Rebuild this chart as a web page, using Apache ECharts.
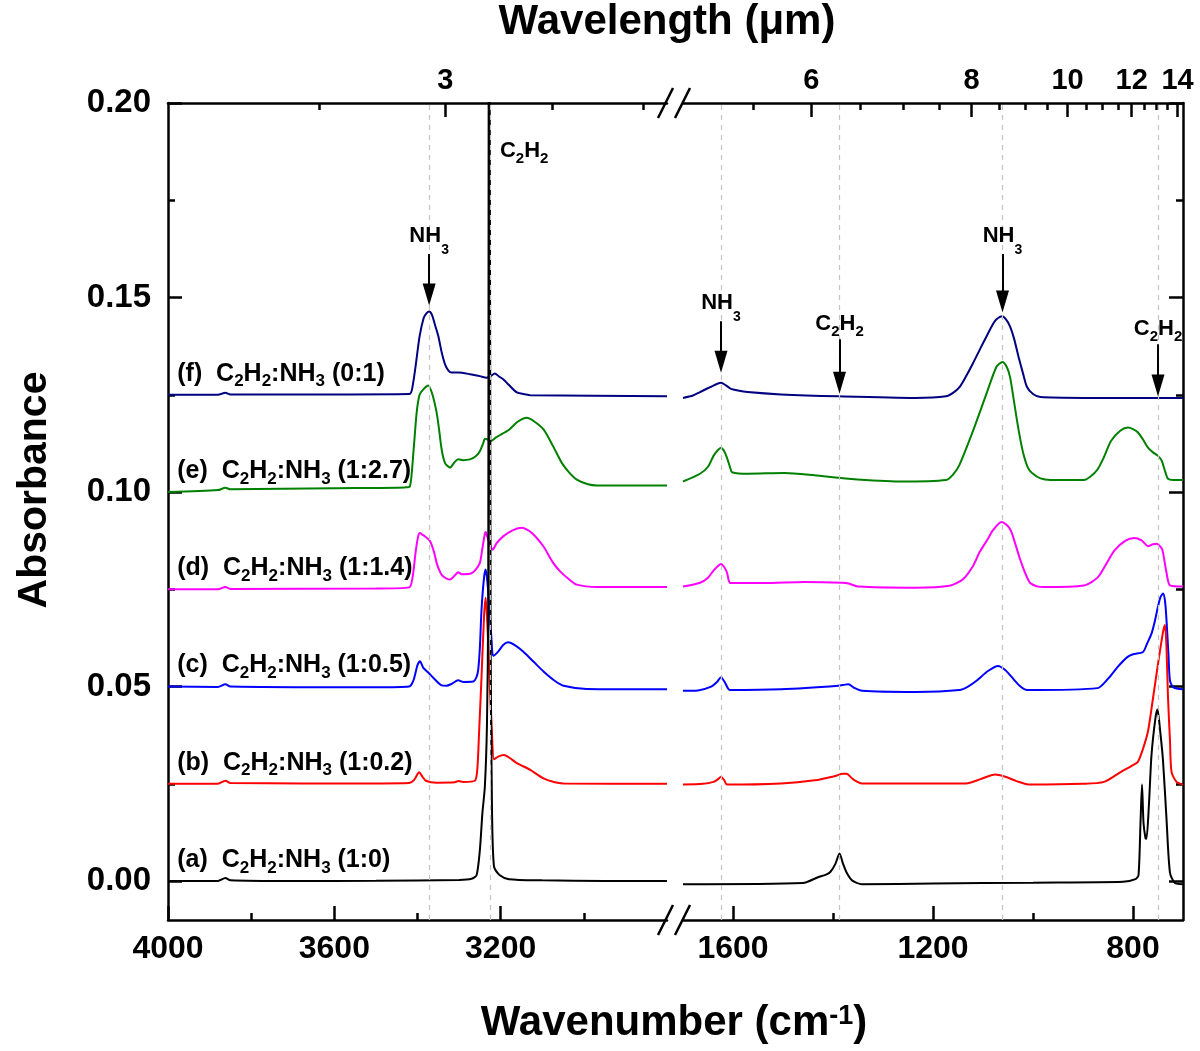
<!DOCTYPE html>
<html>
<head>
<meta charset="utf-8">
<script src="https://cdn.jsdelivr.net/npm/echarts@6/dist/echarts.min.js"></script>
<style>
  html, body { margin: 0; padding: 0; background: #fff; }
  #chart { width: 1200px; height: 1051px; }
</style>
</head>
<body>
<div id="chart"></div>
<script>
var FONT = '"Liberation Sans", Arial, sans-serif';

// tick values
var wnLeftMajor = [4000, 3600, 3200];
var wnLeftMinor = [3800, 3400, 3000];
var wnRightMajor = [1600, 1200, 800];
var wnRightMinor = [1400, 1000];
var umLeftMajor = [3];
var umLeftMinor = [2.75, 3.25, 3.5];
var umRightMajor = [6, 8, 10, 12, 14];
var umRightMinor = [5.5, 6.5, 7, 7.5, 8.5, 9, 9.5, 10.5, 11, 11.5, 12.5, 13, 13.5];
var absMajor = [0, 0.05, 0.10, 0.15, 0.20];
var absMinor = [0.025, 0.075, 0.125, 0.175];

// spectra [wavenumber, absorbance], 4000-2800 and 1700-700 cm-1
var aLeft = [[4000,0.0000],[3880,0.0000],[3862,0.0008],[3850,0.0002],[3700,0.0000],[3500,0.0001],[3300,0.0003],[3270,0.0006],[3258,0.0015],[3250,0.0080],[3244,0.0174],[3238,0.0243],[3233,0.0400],[3230,0.0700],[3228,0.3000],[3224,0.0600],[3221,0.0200],[3216,0.0037],[3202,0.0015],[3180,0.0005],[3100,0.0002],[2950,0.0000],[2800,0.0000]];
var aRight = [[1700,-0.0008],[1460,-0.0005],[1430,0.0010],[1415,0.0016],[1405,0.0024],[1395,0.0045],[1387,0.0071],[1380,0.0045],[1372,0.0020],[1362,0.0002],[1342,-0.0008],[1200,-0.0006],[1000,-0.0004],[820,-0.0002],[795,0.0005],[789,0.0015],[785,0.0150],[782,0.0248],[779,0.0150],[775,0.0110],[773,0.0109],[768,0.0200],[763,0.0324],[755,0.0420],[751,0.0441],[746,0.0390],[740,0.0310],[733,0.0160],[726,0.0021],[716,-0.0005],[700,-0.0008]];

var bLeft = [[4000,0.0250],[3880,0.0250],[3862,0.0258],[3850,0.0252],[3500,0.0251],[3420,0.0252],[3408,0.0260],[3396,0.0280],[3388,0.0268],[3380,0.0258],[3354,0.0253],[3310,0.0254],[3302,0.0257],[3290,0.0255],[3262,0.0258],[3256,0.0290],[3252,0.0380],[3246,0.0526],[3240,0.0680],[3236,0.0728],[3232,0.0660],[3227,0.0526],[3221,0.0380],[3216,0.0313],[3206,0.0320],[3192,0.0324],[3175,0.0314],[3161,0.0303],[3129,0.0286],[3097,0.0264],[3070,0.0254],[3049,0.0251],[2800,0.0250]];
var bRight = [[1700,0.0248],[1660,0.0250],[1639,0.0255],[1630,0.0262],[1624,0.0268],[1618,0.0260],[1612,0.0248],[1504,0.0251],[1437,0.0259],[1396,0.0270],[1380,0.0276],[1373,0.0276],[1360,0.0262],[1342,0.0251],[1134,0.0251],[1105,0.0262],[1076,0.0274],[1055,0.0268],[1033,0.0257],[1006,0.0248],[900,0.0250],[858,0.0255],[824,0.0281],[800,0.0298],[790,0.0307],[780,0.0340],[770,0.0385],[760,0.0470],[750,0.0558],[740,0.0640],[736,0.0658],[733,0.0600],[730,0.0472],[726,0.0360],[723,0.0281],[713,0.0255],[700,0.0248]];

var cLeft = [[4000,0.0500],[3880,0.0499],[3862,0.0506],[3850,0.0500],[3500,0.0498],[3420,0.0500],[3410,0.0515],[3400,0.0555],[3394,0.0565],[3386,0.0548],[3374,0.0536],[3358,0.0518],[3342,0.0503],[3330,0.0502],[3318,0.0507],[3302,0.0516],[3290,0.0512],[3266,0.0513],[3258,0.0525],[3254,0.0543],[3250,0.0600],[3246,0.0698],[3240,0.0780],[3236,0.0801],[3232,0.0770],[3227,0.0698],[3222,0.0620],[3218,0.0579],[3206,0.0590],[3194,0.0607],[3182,0.0614],[3165,0.0606],[3146,0.0590],[3120,0.0563],[3097,0.0539],[3070,0.0515],[3049,0.0502],[2993,0.0494],[2800,0.0493]];
var cRight = [[1700,0.0489],[1670,0.0490],[1645,0.0499],[1632,0.0512],[1624,0.0524],[1616,0.0510],[1606,0.0491],[1504,0.0493],[1389,0.0502],[1376,0.0505],[1369,0.0506],[1358,0.0497],[1342,0.0489],[1235,0.0486],[1147,0.0491],[1130,0.0500],[1113,0.0515],[1090,0.0540],[1070,0.0553],[1055,0.0542],[1039,0.0519],[1025,0.0500],[1012,0.0491],[871,0.0496],[850,0.0520],[831,0.0550],[812,0.0575],[800,0.0583],[780,0.0589],[772,0.0610],[763,0.0636],[756,0.0670],[750,0.0706],[745,0.0730],[740,0.0739],[736,0.0720],[733,0.0671],[729,0.0580],[726,0.0515],[719,0.0498],[700,0.0493]];

var dLeft = [[4000,0.0750],[3880,0.0750],[3862,0.0756],[3850,0.0751],[3500,0.0752],[3420,0.0755],[3412,0.0780],[3404,0.0850],[3398,0.0888],[3394,0.0895],[3388,0.0890],[3382,0.0886],[3370,0.0874],[3360,0.0845],[3354,0.0818],[3345,0.0793],[3338,0.0783],[3322,0.0775],[3310,0.0786],[3302,0.0794],[3294,0.0789],[3274,0.0790],[3262,0.0798],[3250,0.0818],[3244,0.0855],[3238,0.0893],[3236,0.0897],[3232,0.0885],[3227,0.0869],[3219,0.0852],[3210,0.0868],[3194,0.0886],[3170,0.0902],[3149,0.0908],[3125,0.0895],[3097,0.0860],[3075,0.0820],[3057,0.0796],[3035,0.0775],[3017,0.0762],[2969,0.0756],[2800,0.0756]];
var dRight = [[1700,0.0757],[1666,0.0767],[1650,0.0780],[1639,0.0798],[1630,0.0810],[1624,0.0815],[1618,0.0808],[1612,0.0793],[1605,0.0766],[1538,0.0766],[1457,0.0769],[1380,0.0767],[1369,0.0765],[1349,0.0757],[1235,0.0754],[1167,0.0759],[1140,0.0776],[1120,0.0810],[1107,0.0845],[1090,0.0880],[1080,0.0902],[1063,0.0923],[1050,0.0912],[1043,0.0897],[1035,0.0865],[1026,0.0828],[1015,0.0790],[1006,0.0767],[990,0.0757],[979,0.0756],[898,0.0760],[871,0.0780],[855,0.0812],[837,0.0850],[815,0.0875],[798,0.0882],[783,0.0876],[770,0.0861],[760,0.0866],[753,0.0867],[742,0.0854],[738,0.0830],[733,0.0793],[726,0.0760],[700,0.0757]];

var eLeft = [[4000,0.1000],[3880,0.1005],[3862,0.1011],[3850,0.1007],[3600,0.1010],[3430,0.1012],[3418,0.1015],[3410,0.1100],[3402,0.1204],[3395,0.1250],[3386,0.1264],[3374,0.1274],[3364,0.1250],[3354,0.1204],[3348,0.1160],[3342,0.1110],[3334,0.1075],[3322,0.1063],[3310,0.1078],[3302,0.1084],[3290,0.1082],[3274,0.1084],[3260,0.1092],[3250,0.1105],[3242,0.1125],[3238,0.1137],[3231,0.1135],[3224,0.1131],[3212,0.1140],[3202,0.1146],[3180,0.1160],[3160,0.1180],[3137,0.1191],[3120,0.1182],[3097,0.1161],[3075,0.1120],[3053,0.1075],[3035,0.1050],[3017,0.1032],[2990,0.1020],[2969,0.1017],[2800,0.1017]];
var eRight = [[1700,0.1027],[1666,0.1047],[1650,0.1065],[1639,0.1093],[1630,0.1108],[1624,0.1114],[1618,0.1106],[1612,0.1088],[1605,0.1060],[1602,0.1051],[1571,0.1047],[1497,0.1049],[1437,0.1043],[1369,0.1034],[1268,0.1027],[1174,0.1031],[1160,0.1045],[1147,0.1070],[1120,0.1157],[1093,0.1253],[1073,0.1322],[1061,0.1334],[1052,0.1320],[1046,0.1296],[1040,0.1250],[1033,0.1192],[1026,0.1140],[1019,0.1097],[1010,0.1062],[1002,0.1049],[985,0.1035],[965,0.1031],[898,0.1031],[885,0.1040],[871,0.1058],[858,0.1090],[844,0.1131],[825,0.1158],[810,0.1166],[800,0.1162],[790,0.1153],[780,0.1135],[770,0.1114],[760,0.1102],[750,0.1093],[743,0.1082],[740,0.1071],[735,0.1050],[730,0.1034],[720,0.1031],[700,0.1031]];

var fLeft = [[4000,0.1250],[3880,0.1250],[3862,0.1255],[3850,0.1251],[3600,0.1251],[3420,0.1252],[3414,0.1260],[3405,0.1320],[3395,0.1400],[3385,0.1448],[3378,0.1460],[3372,0.1464],[3365,0.1455],[3358,0.1430],[3350,0.1401],[3342,0.1360],[3334,0.1329],[3326,0.1313],[3318,0.1307],[3302,0.1307],[3274,0.1303],[3250,0.1298],[3234,0.1294],[3224,0.1298],[3214,0.1305],[3204,0.1297],[3194,0.1290],[3180,0.1275],[3161,0.1256],[3140,0.1251],[3129,0.1249],[2800,0.1246]];
var fRight = [[1700,0.1242],[1680,0.1248],[1666,0.1257],[1645,0.1270],[1624,0.1281],[1614,0.1274],[1605,0.1266],[1590,0.1261],[1571,0.1257],[1504,0.1251],[1389,0.1246],[1235,0.1242],[1174,0.1246],[1160,0.1255],[1147,0.1270],[1135,0.1295],[1120,0.1331],[1105,0.1370],[1093,0.1400],[1080,0.1432],[1073,0.1444],[1062,0.1452],[1054,0.1444],[1046,0.1426],[1038,0.1395],[1029,0.1348],[1020,0.1305],[1012,0.1270],[1000,0.1252],[985,0.1244],[898,0.1242],[700,0.1242]];

var curveTags = ['(a)', '(b)', '(c)', '(d)', '(e)', '(f)'];
var curveRatios = ['1:0', '1:0.2', '1:0.5', '1:1.4', '1:2.7', '0:1'];
var curveBase = [0, 0.025, 0.05, 0.075, 0.10, 0.125];
var curveColors = ['#000000', '#ff0000', '#0000ff', '#ff00ff', '#008000', '#000080'];
var leftSets = [aLeft, bLeft, cLeft, dLeft, eLeft, fLeft];
var rightSets = [aRight, bRight, cRight, dRight, eRight, fRight];

// reference lines and arrows (from = tail, to = arrow head centre)
var dashLeft = [3372, 3226];
var dashRight = [1624, 1387, 1061, 750];
var arrowsLeft = [{name: 'NH3', x: 3372, from: 0.1612, to: 0.1508}];
var arrowsRight = [
  {name: 'NH3', x: 1624, from: 0.1439, to: 0.1335},
  {name: 'C2H2', x: 1387, from: 0.1393, to: 0.1281},
  {name: 'NH3', x: 1061, from: 0.1612, to: 0.1490},
  {name: 'C2H2', x: 750, from: 0.1380, to: 0.1274}
];

// rich text for chemical formulas: main key / subscript key
function chem(s, mk, sk) {
  return '{' + mk + '|' + s.replace(/([A-Za-z])(\d+)/g, '$1}{' + sk + '|$2}{' + mk + '|') + '}';
}
function tok(size, pad) {
  return {fontFamily: FONT, fontWeight: 'bold', color: '#000', fontSize: size, lineHeight: size, padding: pad};
}
var curveRich = {n: tok(25, [0, 0, 8, 0]), s: tok(17, [8, 0, 0, 0])};
var annRich = {
  n: tok(22, [0, 0, 8, 0]), s: tok(15, [8, 0, 0, 0]),
  m: tok(22, [0, 0, 14, 0]), d: tok(14, [14, 0, 0, 0])
};

function wnAxis(gridIndex, position, min, max, values, major, fmt) {
  return {
    type: 'value', gridIndex: gridIndex, position: position, min: min, max: max, inverse: true,
    axisLine: {show: major, onZero: false, lineStyle: {color: '#000', width: 2.5}},
    axisTick: {show: true, inside: true, length: major ? 14 : 7, customValues: values,
      lineStyle: {color: '#000', width: 2.5}},
    axisLabel: {show: !!fmt, customValues: values, formatter: fmt, fontFamily: FONT, fontWeight: 'bold',
      fontSize: position === 'top' ? 29 : 32, color: '#000', margin: position === 'top' ? 8 : 13},
    splitLine: {show: false}
  };
}
function absAxis(gridIndex, position, values, major, withLabels) {
  return {
    type: 'value', gridIndex: gridIndex, position: position, min: -0.01, max: 0.20,
    axisLine: {show: major, onZero: false, lineStyle: {color: '#000', width: 2.5}},
    axisTick: {show: true, inside: true, length: major ? 14 : 7, customValues: values,
      lineStyle: {color: '#000', width: 2.5}},
    axisLabel: {show: withLabels, customValues: values, formatter: function (v) { return v.toFixed(2); },
      fontFamily: FONT, fontWeight: 'bold', fontSize: 33, color: '#000', margin: 17},
    splitLine: {show: false}
  };
}
var toUm = function (v) { return String(Math.round(1e4 / v)); };
var umToWn = function (u) { return 1e4 / u; };

var xAxes = [
  wnAxis(0, 'bottom', 2800, 4000, wnLeftMajor, true, function (v) { return String(v); }),
  wnAxis(0, 'bottom', 2800, 4000, wnLeftMinor, false),
  wnAxis(0, 'top', 2800, 4000, umLeftMajor.map(umToWn), true, toUm),
  wnAxis(0, 'top', 2800, 4000, umLeftMinor.map(umToWn), false),
  wnAxis(1, 'bottom', 700, 1700, wnRightMajor, true, function (v) { return String(v); }),
  wnAxis(1, 'bottom', 700, 1700, wnRightMinor, false),
  wnAxis(1, 'top', 700, 2000, umRightMajor.map(umToWn), true, toUm),
  wnAxis(1, 'top', 700, 2000, umRightMinor.map(umToWn), false)
];
var yAxes = [
  absAxis(0, 'left', absMajor, true, true),
  absAxis(0, 'left', absMinor, false, false),
  absAxis(1, 'right', absMajor, true, false),
  absAxis(1, 'right', absMinor, false, false)
];

var series = [];
// dashed guide lines
series.push({
  type: 'line', xAxisIndex: 0, yAxisIndex: 0, data: [], z: 1, silent: true,
  markLine: {silent: true, symbol: ['none', 'none'], label: {show: false},
    lineStyle: {type: [5, 5], color: '#c4c4c4', width: 1.2},
    data: dashLeft.map(function (v) { return {xAxis: v}; })}
});
series.push({
  type: 'line', xAxisIndex: 4, yAxisIndex: 2, data: [], z: 1, silent: true,
  markLine: {silent: true, symbol: ['none', 'none'], label: {show: false},
    lineStyle: {type: [5, 5], color: '#c4c4c4', width: 1.2},
    data: dashRight.map(function (v) { return {xAxis: v}; })}
});

// spectra, top curve first so black sits on top
for (var i = 5; i >= 0; i--) {
  (function (i) {
    series.push({
      type: 'line', xAxisIndex: 0, yAxisIndex: 0, data: leftSets[i], showSymbol: false, symbol: 'none',
      smooth: 0.25, silent: true, lineStyle: {color: curveColors[i], width: 2},
      markPoint: {
        silent: true, symbol: 'circle', symbolSize: 1, itemStyle: {color: 'rgba(0,0,0,0)'},
        label: {show: true, position: 'right', distance: 0, rich: curveRich,
          formatter: function () { return '{n|' + curveTags[i] + '  }' + chem('C2H2:NH3 (' + curveRatios[i] + ')', 'n', 's'); }},
        data: [{coord: [3979, curveBase[i] + 0.0044]}]
      }
    });
    series.push({
      type: 'line', xAxisIndex: 4, yAxisIndex: 2, data: rightSets[i], showSymbol: false, symbol: 'none',
      smooth: 0.25, silent: true, lineStyle: {color: curveColors[i], width: 2}
    });
  })(i);
}

function arrowSeries(xi, yi, list, extraPoints) {
  return {
    type: 'line', xAxisIndex: xi, yAxisIndex: yi, data: [], z: 5, silent: true,
    markLine: {
      silent: true, symbol: ['none', 'path://M1,0L2,4L0,4Z'], symbolSize: 18,
      lineStyle: {color: '#000', width: 2, type: 'solid'},
      label: {show: true, position: 'start', distance: 0, rich: annRich,
        formatter: function (p) { return p.name === 'NH3' ? chem(p.name, 'm', 'd') : chem(p.name, 'n', 's'); }},
      data: list.map(function (a) {
        return [{name: a.name, coord: [a.x, a.from]}, {coord: [a.x, a.to], symbolSize: [13, 22]}];
      })
    },
    markPoint: extraPoints
  };
}
series.push(arrowSeries(0, 0, arrowsLeft, {
  silent: true, symbol: 'circle', symbolSize: 1, itemStyle: {color: 'rgba(0,0,0,0)'},
  label: {show: true, position: 'right', distance: 0, rich: annRich,
    formatter: function () { return chem('C2H2', 'n', 's'); }},
  data: [{coord: [3203, 0.1866]}]
}));
series.push(arrowSeries(4, 2, arrowsRight));

var chart = echarts.init(document.getElementById('chart'));
chart.setOption({
  animation: false,
  backgroundColor: '#ffffff',
  grid: [
    {left: 168, top: 103, width: 499, height: 817},
    {left: 683, top: 103, width: 500, height: 817}
  ],
  xAxis: xAxes,
  yAxis: yAxes,
  series: series,
  graphic: [
    {type: 'text', x: 667, y: 22, style: {text: 'Wavelength (μm)', fill: '#000',
      font: 'bold 42px ' + FONT, align: 'center', verticalAlign: 'middle'}},
    {type: 'text', x: 35, y: 490, rotation: Math.PI / 2, style: {text: 'Absorbance', fill: '#000',
      font: 'bold 41px ' + FONT, align: 'center', verticalAlign: 'middle'}},
    {type: 'text', x: 674, y: 1020, style: {
      text: '{a|Wavenumber (cm}{p|-1}{a|)}', align: 'center', verticalAlign: 'middle',
      rich: {
        a: tok(42, [7, 0, 0, 0]),
        p: tok(27, [0, 0, 7, 0])
      }}},
    {type: 'line', shape: {x1: 658, y1: 935, x2: 673, y2: 905}, style: {stroke: '#000', lineWidth: 2.5}},
    {type: 'line', shape: {x1: 675, y1: 935, x2: 690, y2: 905}, style: {stroke: '#000', lineWidth: 2.5}},
    {type: 'line', shape: {x1: 658, y1: 118, x2: 673, y2: 88}, style: {stroke: '#000', lineWidth: 2.5}},
    {type: 'line', shape: {x1: 675, y1: 118, x2: 690, y2: 88}, style: {stroke: '#000', lineWidth: 2.5}}
  ]
});
</script>
</body>
</html>
